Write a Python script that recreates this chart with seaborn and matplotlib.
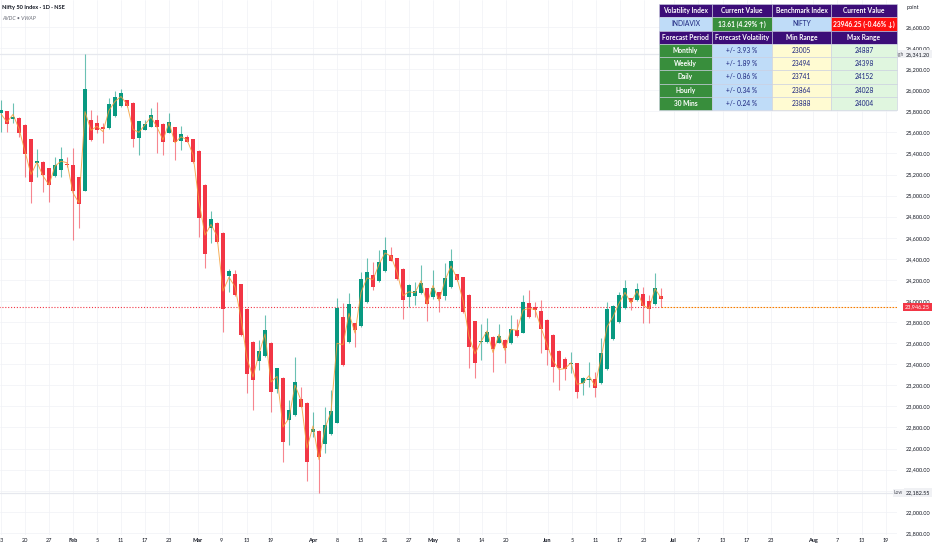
import seaborn as sns
import matplotlib.pyplot as plt
import matplotlib.transforms as mtransforms
import pandas as pd
import numpy as np

# Daily candles (open, high, low, close)
opens = [25787, 25803, 25730, 25737, 25670, 25534, 25313, 25322, 25259, 25186,
         25240, 25300, 25294, 25174, 25047, 25715, 25689, 25654, 25642, 25756,
         25847, 25904, 25882, 25550, 25626, 25654, 25715, 25680, 25597, 25648,
         25522, 25553, 25534, 25427, 25104, 24693, 24737, 24649, 24238, 24257,
         24159, 23921, 23614, 23431, 23479, 23602, 23162, 23267, 22871, 22919,
         23071, 23036, 22754, 22770, 22644, 22735, 22846, 23845, 23614, 23789,
         23763, 23988, 24250, 24193, 24288, 24434, 24405, 24307, 24035, 24051,
         24073, 24121, 24041, 24083, 24051, 24133, 24253, 24225, 24061, 23807,
         23608, 23608, 23659, 23605, 23630, 23599, 23725, 23700, 23978, 23947,
         23909, 23820, 23678, 23526, 23447, 23403, 23409, 23222, 23251, 23257,
         23219, 23355, 23640, 23798, 23931, 24026, 24010, 24064, 24004, 23972,
         24050]
highs = [25907, 25803, 25882, 25745, 25680, 25540, 25440, 25330, 25265, 25370,
         25458, 25370, 25449, 25180, 26341.2, 25813, 25762, 25686, 25923, 25996,
         26009, 25910, 25890, 25712, 25718, 25828, 25892, 25685, 25781, 25655,
         25661, 25575, 25540, 25435, 25110, 24857, 24745, 24655, 24304, 24295,
         24165, 23930, 23620, 23630, 23864, 23610, 23368, 23275, 23061, 23466,
         23188, 23045, 22944, 22780, 22998, 23156, 24026, 23978, 24073, 23795,
         24279, 24405, 24374, 24484, 24604, 24516, 24412, 24315, 24160, 24177,
         24339, 24128, 24294, 24090, 24358, 24491, 24260, 24232, 24068, 23815,
         23782, 23842, 23665, 23782, 23637, 23864, 23833, 24057, 24105, 23994,
         24010, 23828, 23685, 23533, 23472, 23513, 23415, 23280, 23425, 23324,
         23646, 23994, 23962, 24089, 24200, 24032, 24174, 24136, 24057, 24263,
         24121]
lows = [25607, 25607, 25686, 25560, 25180, 24927, 25180, 25038, 24937, 25180,
        25174, 25275, 24579, 24690, 25040, 25520, 25591, 25503, 25635, 25750,
        25840, 25844, 25458, 25382, 25620, 25648, 25401, 25386, 25591, 25338,
        25433, 25505, 25310, 24611, 24317, 24547, 24550, 23709, 24089, 24050,
        23670, 23124, 22966, 23346, 23470, 22950, 23124, 22476, 22634, 22912,
        22990, 22296, 22713, 22182.55, 22555, 22728, 22840, 23385, 23605, 23567,
        23755, 23980, 24105, 24185, 24280, 24375, 24200, 23826, 23947, 23962,
        24065, 23811, 24022, 23899, 24010, 24125, 24192, 23890, 23362, 23273,
        23441, 23600, 23327, 23598, 23409, 23592, 23662, 23693, 23838, 23852,
        23504, 23393, 23235, 23156, 23251, 23314, 23077, 23109, 23188, 23086,
        23212, 23348, 23633, 23790, 23924, 23915, 24003, 23789, 23795, 23965,
        23947]
closes = [25812, 25680, 25743, 25597, 25398, 25133, 25332, 25193, 25104, 25291,
          25348, 25291, 25047, 24921, 26009, 25528, 25620, 25632, 25869, 25936,
          25971, 25850, 25534, 25708, 25680, 25768, 25654, 25512, 25702, 25512,
          25582, 25512, 25319, 24785, 24450, 24775, 24560, 23921, 24285, 24061,
          23678, 23311, 23248, 23523, 23725, 23134, 23362, 22666, 22966, 23229,
          22998, 22470, 22786, 22523, 22824, 22960, 23931, 23393, 23969, 23725,
          24209, 24272, 24130, 24374, 24484, 24383, 24209, 24010, 24155, 24095,
          24174, 23972, 24124, 24016, 24219, 24380, 24200, 23899, 23561, 23409,
          23621, 23706, 23542, 23668, 23551, 23738, 23668, 23991, 23845, 23915,
          23731, 23535, 23377, 23362, 23355, 23415, 23140, 23273, 23260, 23172,
          23504, 23921, 23956, 24054, 24121, 23994, 24114, 23956, 23927, 24124,
          24020]

last_price = 23946.25
period_high = 26341.20
period_low = 22182.55

# time axis labels and the bar slots they sit on
date_labels = ["13", "20", "27", "Feb", "5", "11", "17", "23", "Mar", "9", "13", "19",
               "Apr", "8", "15", "21", "27", "May", "8", "14", "20", "Jun", "5", "11",
               "17", "23", "Jul", "7", "13", "17", "23", "Aug", "7", "13", "19"]
date_slots = [0, 4, 8, 12, 16, 20, 24, 28, 32.8, 36.8, 41, 45, 52, 56, 60, 64, 68, 72,
              76.3, 80.2, 84.2, 91.1, 95.2, 99.2, 103.2, 107.2, 112.1, 116.2, 120.3,
              124.3, 128.3, 135.3, 139.4, 143.5, 147.5]
month_names = {"Feb", "Mar", "Apr", "May", "Jun", "Jul", "Aug"}

# volatility table
header_top = ["Volatility Index", "Current Value", "Benchmark Index", "Current Value"]
value_row = ["INDIAVIX", "13.61 (4.29% \u2191)", "NIFTY", "23946.25 (-0.46% \u2193)"]
header_mid = ["Forecast Period", "Forecast Volatility", "Min Range", "Max Range"]
periods = ["Monthly", "Weekly", "Daily", "Hourly", "30 Mins"]
vol_pct = [3.93, 1.89, 0.86, 0.34, 0.24]
min_range = [23005, 23494, 23741, 23864, 23888]
max_range = [24887, 24398, 24152, 24028, 24004]

df = pd.DataFrame({"open": opens, "high": highs, "low": lows, "close": closes})
df["bar"] = np.arange(len(df))
df["up"] = df["close"] >= df["open"]
df["vwap"] = (df["high"] + df["low"] + df["close"]) / 3

sns.set_style("white")
plt.rcParams["font.family"] = ["Lato", "DejaVu Sans"]

GREEN = "#089981"
RED = "#f23645"
TXT = "#131722"

fig = plt.figure(figsize=(9.32, 5.5), dpi=100)
ax = fig.add_axes([0, 15 / 550, 897 / 932, 535 / 550])

colors = np.where(df["up"], GREEN, RED)
ax.vlines(df["bar"], df["low"], df["high"], colors=colors, lw=0.8, alpha=0.6, zorder=3)
body_lo = np.minimum(df["open"], df["close"])
body_h = np.maximum((df["close"] - df["open"]).abs(), 12)
ax.bar(df["bar"], body_h, bottom=body_lo, width=0.72, color=colors, linewidth=0, zorder=4)

sns.lineplot(data=df, x="bar", y="vwap", ax=ax, color="#f5a03a", lw=0.7, alpha=0.85, zorder=5)

# last price line
n = len(df)
ax.plot([-1, n - 1], [last_price, last_price], color=RED, lw=0.8, ls=(0, (1, 1.6)), zorder=2)
ax.plot([n - 1, 160], [last_price, last_price], color="#f57c00", lw=0.8, ls=(0, (1.5, 1.2)), zorder=2)

# period high / low lines
ax.axhline(period_high, color="#e6e8ee", lw=0.9, zorder=1)
ax.axhline(period_low, color="#e6e8ee", lw=0.9, zorder=1)

ax.set_xlim(-1 / 6, 896 / 6)
ax.set_ylim(21780, 26856)
ax.set_xlabel("")
ax.set_ylabel("")
for s in ax.spines.values():
    s.set_visible(False)

ax.yaxis.tick_right()
ax.set_yticks(np.arange(21800, 26601, 200))
ax.set_yticklabels([f"{v:,.2f}" for v in np.arange(21800, 26601, 200)])
ax.tick_params(axis="y", length=0, pad=6, labelsize=4.0, labelcolor=TXT)
ax.set_xticks(date_slots)
ax.set_xticklabels(date_labels)
ax.tick_params(axis="x", length=0, pad=2, labelsize=4.0, labelcolor=TXT)
for lab in ax.get_xticklabels():
    if lab.get_text() in month_names:
        lab.set_fontweight("bold")
ax.grid(True, color="#f0f2f6", lw=0.5)
ax.set_axisbelow(True)

# price axis labels
trans = mtransforms.blended_transform_factory(ax.transAxes, ax.transData)
px = 1 / 897
ax.text(1 + 8 * px, last_price, f"{last_price:,.2f}", transform=trans, fontsize=4.0,
        color="white", va="center", ha="left", clip_on=False,
        bbox=dict(boxstyle="square,pad=0.3", fc=RED, ec="none"))
for lbl, val in [("High", period_high), ("Low", period_low)]:
    ax.text(1 - 3 * px, val, lbl, transform=trans, fontsize=3.5, color="#50535e",
            va="center", ha="left", clip_on=False,
            bbox=dict(boxstyle="square,pad=0.3", fc="#f0f1f4", ec="none"))
    ax.text(1 + 9 * px, val, f"{val:,.2f}", transform=trans, fontsize=3.9, color=TXT,
            va="center", ha="left", clip_on=False,
            bbox=dict(boxstyle="square,pad=0.3", fc="#f0f1f4", ec="none"))

fig.text(907 / 932, 1 - 8 / 550, "point", fontsize=4.0, color=TXT, va="center")
fig.text(2 / 932, 1 - 8 / 550, "Nifty 50 Index \u00b7 1D \u00b7 NSE", fontsize=4.1,
         fontweight="bold", color=TXT, va="center")
fig.text(2 / 932, 1 - 18 / 550, "AVDC \u2022 VWAP", fontsize=3.8, color="#6a6d78",
         va="center", style="italic")

# table
PURPLE = "#3c0d78"
TGREEN = "#388e3c"
LBLUE = "#bfdcf8"
LYELLOW = "#fffbd2"
LGREEN = "#e0f6df"
NAVY = "#1a237e"

cell_text = [header_top, value_row, header_mid]
cell_col = [[PURPLE] * 4, [LBLUE, TGREEN, LBLUE, "#ff1010"], [PURPLE] * 4]
for p, v, lo, hi in zip(periods, vol_pct, min_range, max_range):
    cell_text.append([p, f"+/- {v:.2f} %", str(lo), str(hi)])
    cell_col.append([TGREEN, LBLUE, LYELLOW, LGREEN])

tx0 = 659 / 897
tbl = ax.table(cellText=cell_text, cellColours=cell_col, cellLoc="center",
               colWidths=[53, 60, 59, 66],
               bbox=[tx0, 1 - 110 / 535, 238 / 897, 106 / 535], zorder=10)
tbl.auto_set_font_size(False)
for (r, c), cell in tbl.get_celld().items():
    cell.set_edgecolor("#c9cde0")
    cell.set_linewidth(0.4)
    t = cell.get_text()
    t.set_fontsize(4.8)
    if r in (0, 2):
        t.set_color("white")
        t.set_fontweight("bold")
    elif r == 1:
        if c in (1, 3):
            t.set_color("white")
            t.set_fontweight("bold")
        else:
            t.set_color(NAVY)
    else:
        if c == 0:
            t.set_color("white")
            t.set_fontweight("bold")
        else:
            t.set_color(NAVY)

plt.savefig("out.png", dpi=100)
